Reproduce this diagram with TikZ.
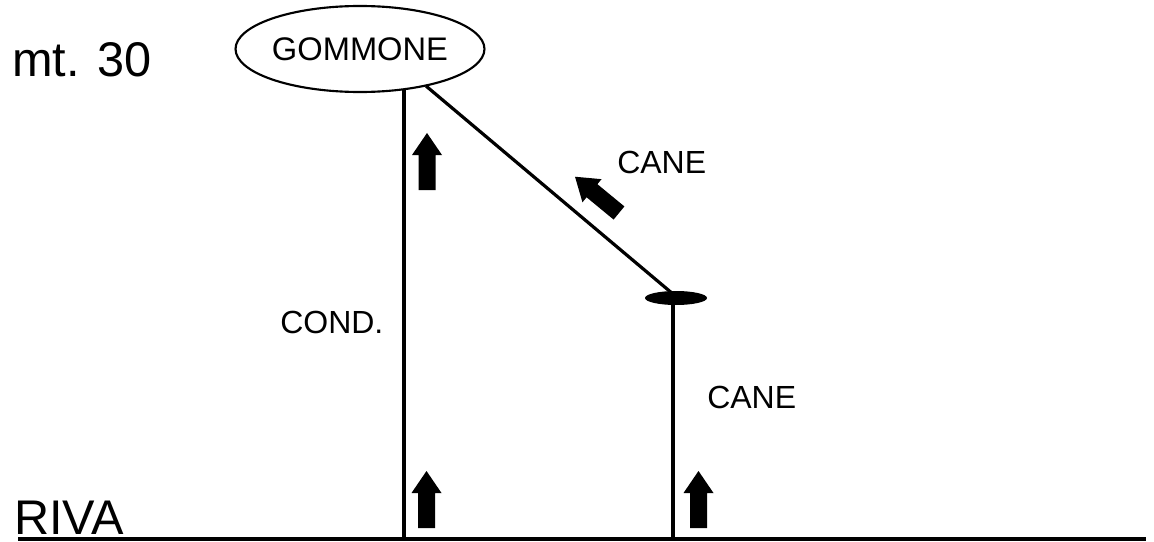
\documentclass[tikz,border=0pt]{standalone}
\usepackage{fontspec}
\setmainfont{Liberation Sans}
\usetikzlibrary{shapes.geometric}
\begin{document}
\begin{tikzpicture}[x=0.75pt,y=-0.75pt,
  wire/.style={line width=2.4pt},
  bigtext/.style={inner sep=0pt,anchor=base west,font=\fontsize{36.5}{40}\selectfont},
  lbl/.style={inner sep=0pt,anchor=base west,font=\fontsize{24}{28}\selectfont},
  blockarrow/.pic={\fill (-8.5,0) -- (-8.5,-35) -- (-15,-35) -- (0,-57) -- (15,-35) -- (8.5,-35) -- (8.5,0) -- cycle;}]
\useasboundingbox (0,0) rectangle (1154,542);
% ground
\coordinate (g1) at (18,539);
\coordinate (g2) at (1146,539);
\draw[wire] (g1) -- (g2);
% boat
\node[ellipse,draw,line width=1.6pt,minimum width=178pt,minimum height=64.5pt,inner sep=0pt,
  font=\fontsize{24.5}{28}\selectfont] (gommone) at (360,49) {GOMMONE};
% buoy
\node[ellipse,fill,minimum width=46.5pt,minimum height=10.5pt,inner sep=0pt] (boa) at (676,298) {};
% lines
\coordinate (lt) at (404,89);
\coordinate (lb) at (404,539);
\draw[wire] (lt) -- (lb);
\coordinate (dt) at (426,86);
\coordinate (db) at (673,294);
\draw[wire] (dt) -- (db);
\coordinate (rb) at (673,539);
\draw[wire] (db) -- (rb);
% arrows
\pic at (427,190) {blockarrow};
\pic at (426.5,528) {blockarrow};
\pic at (698.5,528) {blockarrow};
\pic[rotate=50.5] at (619,213) {blockarrow};
% texts
\node[bigtext] (mt) at (12,77) {mt. 30};
\node[bigtext] (riva) at (14,534) {RIVA};
\node[lbl] (cane1) at (617,173) {CANE};
\node[lbl] (cond) at (280,333) {COND.};
\node[lbl] (cane2) at (707,408) {CANE};
\end{tikzpicture}
\end{document}
